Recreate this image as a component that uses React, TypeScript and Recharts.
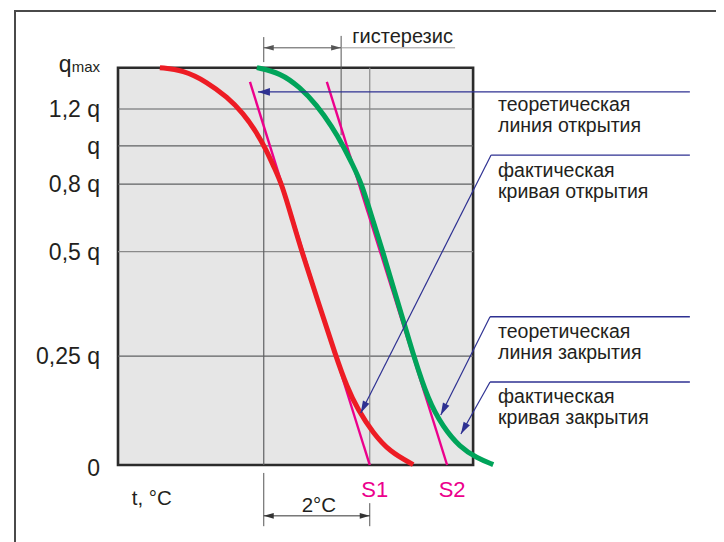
import React from 'react';
import {
  ComposedChart,
  Line,
  XAxis,
  YAxis,
  ReferenceArea,
  ReferenceLine,
  ReferenceDot
} from 'recharts';

// t in °C from the left edge of the field, q in % of qmax (the scheme's q scale is not linear)
const openActualT = [0.79, 1.23, 1.68, 2.06, 2.36, 2.62, 2.79, 2.95, 3.09, 3.28, 3.47, 3.79, 4.11, 4.32, 4.53, 4.81, 5.13, 5.57];
const openActualQ = [100, 99.4, 96.4, 92.6, 88.6, 83.6, 79.5, 74.8, 70.7, 62.2, 53.6, 40.5, 27.4, 19.6, 13.8, 8.1, 3.3, 0.1];

const closeActualT = [2.62, 3.06, 3.43, 3.75, 4.04, 4.25, 4.43, 4.6, 4.77, 5.0, 5.21, 5.42, 5.58, 5.85, 6.13, 6.45, 6.77, 7.08];
const closeActualQ = [100, 98.7, 95.1, 90.6, 85.1, 80.3, 75.5, 70.7, 63.2, 53.6, 44.0, 34.7, 27.4, 16.4, 9.6, 4.5, 1.8, 0.1];

const openTheoryT = [2.49, 4.75];
const openTheoryQ = [96.4, 0];
const closeTheoryT = [3.94, 6.21];
const closeTheoryQ = [96.4, 0];

const qTicks = [0, 27.4, 53.7, 70.7, 80.3, 89.6, 100];
const qLabels = ['0', '0,25 q', '0,5 q', '0,8 q', 'q', '1,2 q', 'qmax'];

const sTicks = [4.75, 6.21];
const sLabels = ['S1', 'S2'];

const gridT = [2.75, 4.75];
const boxT = 6.7;
const hysteresisT = [2.75, 4.21];

const calloutText = [
  ['теоретическая', 'линия открытия'],
  ['фактическая', 'кривая открытия'],
  ['теоретическая', 'линия закрытия'],
  ['фактическая', 'кривая закрытия']
];

const toData = (t: number[], q: number[]) => t.map((x, i) => ({ x, y: q[i] }));

const FONT = '"Liberation Sans", Arial, sans-serif';
const INK = '#231f20';
const GRID = '#5f6062';
const RED = '#ed1c24';
const GREEN = '#00a45a';
const MAGENTA = '#ec008c';
const BLUE = '#2e3192';

// callout placement (chart units)
const calloutX = 7.17;
const calloutY = [88.98, 72.6, 31.84, 15.48];
const leaderCorner = [
  { x: 7.04, y: 78.0, tx: 4.58, ty: 13.1 },
  { x: 7.02, y: 37.3, tx: 6.09, ty: 12.6 },
  { x: 7.02, y: 20.9, tx: 6.47, ty: 7.8 }
];
const leaderEnd = 10.79;

function arrowShape(color: string, width: number, both = false, head = 11, half = 3.5) {
  return (p: any) => {
    const { x1, y1, x2, y2 } = p;
    const tip = (tx: number, ty: number, fx: number, fy: number) => {
      const dx = tx - fx;
      const dy = ty - fy;
      const len = Math.hypot(dx, dy) || 1;
      const ux = dx / len;
      const uy = dy / len;
      const bx = tx - ux * head;
      const by = ty - uy * head;
      return `${tx},${ty} ${bx - uy * half},${by + ux * half} ${bx + uy * half},${by - ux * half}`;
    };
    return (
      <g>
        <line x1={x1} y1={y1} x2={x2} y2={y2} stroke={color} strokeWidth={width} />
        <polygon points={tip(x2, y2, x1, y1)} fill={color} />
        {both && <polygon points={tip(x1, y1, x2, y2)} fill={color} />}
      </g>
    );
  };
}

const QTick = (props: any) => {
  const { x, y, index } = props;
  const label = qLabels[index] ?? '';
  if (label === 'qmax') {
    return (
      <text x={x} y={y} dy={4.5} textAnchor="end" fontSize={23} fill={INK} fontFamily={FONT}>
        <tspan>q</tspan>
        <tspan fontSize={15}>max</tspan>
      </text>
    );
  }
  return (
    <text x={x} y={y} dy={label === '0' ? 10.5 : 8.3} textAnchor="end" fontSize={23} fill={INK} fontFamily={FONT}>
      {label}
    </text>
  );
};

const STick = (props: any) => {
  const { x, y, index } = props;
  return (
    <text x={x + 5} y={y} dy={24} textAnchor="middle" fontSize={22} fill={MAGENTA} fontFamily={FONT}>
      {sLabels[index]}
    </text>
  );
};

const textShape = (lines: string[], anchor: 'start' | 'middle' | 'end' = 'start', size = 20, lead = 21) => (p: any) => (
  <text x={p.cx} y={p.cy} textAnchor={anchor} fontSize={size} fill={INK} fontFamily={FONT}>
    {lines.map((s, i) => (
      <tspan key={i} x={p.cx} dy={i === 0 ? 0 : lead}>
        {s}
      </tspan>
    ))}
  </text>
);

export default function App() {
  return (
    <div style={{ position: 'relative', width: 716, height: 534, fontFamily: FONT }}>
      <div
        style={{
          position: 'absolute',
          left: 6,
          top: 2,
          width: 710,
          height: 532,
          borderLeft: '2px solid #4a4a4a',
          borderTop: '2px solid #4a4a4a',
          boxSizing: 'border-box'
        }}
      />
      <ComposedChart width={716} height={534} margin={{ top: 12, right: 23, left: 10, bottom: 37 }}>
        <XAxis
          type="number"
          dataKey="x"
          domain={[0, 11]}
          ticks={sTicks}
          interval={0}
          axisLine={false}
          tickLine={false}
          height={40}
          tick={<STick />}
        />
        <YAxis
          type="number"
          dataKey="y"
          domain={[0, 112]}
          ticks={qTicks}
          interval={0}
          axisLine={false}
          tickLine={false}
          width={100}
          tickMargin={12}
          tick={<QTick />}
        />

        <ReferenceArea x1={0} x2={boxT} y1={0} y2={100} fill="#e6e6e6" fillOpacity={1} stroke="none" />

        {qTicks.slice(1, -1).map(q => (
          <ReferenceLine
            key={'h' + q}
            segment={[{ x: 0, y: q }, { x: boxT, y: q }]}
            stroke={q === 53.7 ? '#8a8a8a' : GRID}
            strokeWidth={1.2}
            ifOverflow="visible"
          />
        ))}
        {gridT.map((t, i) => (
          <ReferenceLine
            key={'v' + t}
            segment={[{ x: t, y: 0 }, { x: t, y: 100 }]}
            stroke={i === 0 ? GRID : '#8a8a8a'}
            strokeWidth={1.2}
            ifOverflow="visible"
          />
        ))}

        <ReferenceArea x1={0} x2={boxT} y1={0} y2={100} fill="none" stroke="#2b2b2b" strokeWidth={2.6} />

        {/* hysteresis mark above the field */}
        <ReferenceLine segment={[{ x: hysteresisT[0], y: 101.4 }, { x: hysteresisT[0], y: 107.7 }]} stroke="#555" strokeWidth={1} ifOverflow="visible" />
        <ReferenceLine segment={[{ x: hysteresisT[1], y: 108 }, { x: hysteresisT[1], y: 83 }]} stroke="#555" strokeWidth={1} ifOverflow="visible" />
        <ReferenceLine
          segment={[{ x: hysteresisT[0], y: 105 }, { x: hysteresisT[1], y: 105 }]}
          ifOverflow="visible"
          shape={arrowShape('#555', 1, true, 10, 2.8)}
        />
        <ReferenceLine segment={[{ x: hysteresisT[1], y: 105 }, { x: 6.36, y: 105 }]} stroke="#9a9a9a" strokeWidth={1} ifOverflow="visible" />
        <ReferenceDot x={4.42} y={106.1} r={0} ifOverflow="visible" shape={textShape(['гистерезис'])} />

        {/* 2 °C mark below the field */}
        <ReferenceLine segment={[{ x: gridT[0], y: -2 }, { x: gridT[0], y: -15.4 }]} stroke="#555" strokeWidth={1} ifOverflow="visible" />
        <ReferenceLine segment={[{ x: gridT[1], y: -9.6 }, { x: gridT[1], y: -15.4 }]} stroke="#555" strokeWidth={1} ifOverflow="visible" />
        <ReferenceLine
          segment={[{ x: gridT[0], y: -12.8 }, { x: gridT[1], y: -12.8 }]}
          ifOverflow="visible"
          shape={arrowShape('#333', 1, true, 10, 2.8)}
        />
        <ReferenceDot x={3.79} y={-11.8} r={0} ifOverflow="visible" shape={textShape(['2°C'], 'middle', 20.5)} />
        <ReferenceDot x={0.26} y={-10.1} r={0} ifOverflow="visible" shape={textShape(['t, °C'], 'start', 20.5)} />

        <Line data={toData(openTheoryT, openTheoryQ)} dataKey="y" type="linear" stroke={MAGENTA} strokeWidth={2.4} dot={false} isAnimationActive={false} />
        <Line data={toData(closeTheoryT, closeTheoryQ)} dataKey="y" type="linear" stroke={MAGENTA} strokeWidth={2.4} dot={false} isAnimationActive={false} />
        <Line data={toData(openActualT, openActualQ)} dataKey="y" type="basis" stroke={RED} strokeWidth={5} dot={false} isAnimationActive={false} />
        <Line data={toData(closeActualT, closeActualQ)} dataKey="y" type="basis" stroke={GREEN} strokeWidth={5} dot={false} isAnimationActive={false} />

        {/* callouts */}
        <ReferenceLine
          segment={[{ x: leaderEnd, y: 93.9 }, { x: 2.64, y: 93.9 }]}
          ifOverflow="visible"
          shape={arrowShape(BLUE, 1.4, false, 12, 3.8)}
        />
        {leaderCorner.map((c, i) => (
          <React.Fragment key={'l' + i}>
            <ReferenceLine segment={[{ x: c.x, y: c.y }, { x: leaderEnd, y: c.y }]} stroke={BLUE} strokeWidth={1.4} ifOverflow="visible" />
            <ReferenceLine
              segment={[{ x: c.x, y: c.y }, { x: c.tx, y: c.ty }]}
              ifOverflow="visible"
              shape={arrowShape(BLUE, 1.2, false, 12, 3.6)}
            />
          </React.Fragment>
        ))}
        {calloutText.map((lines, i) => (
          <ReferenceDot key={'c' + i} x={calloutX} y={calloutY[i]} r={0} ifOverflow="visible" shape={textShape(lines, 'start', 19.5, 21)} />
        ))}
      </ComposedChart>
    </div>
  );
}
